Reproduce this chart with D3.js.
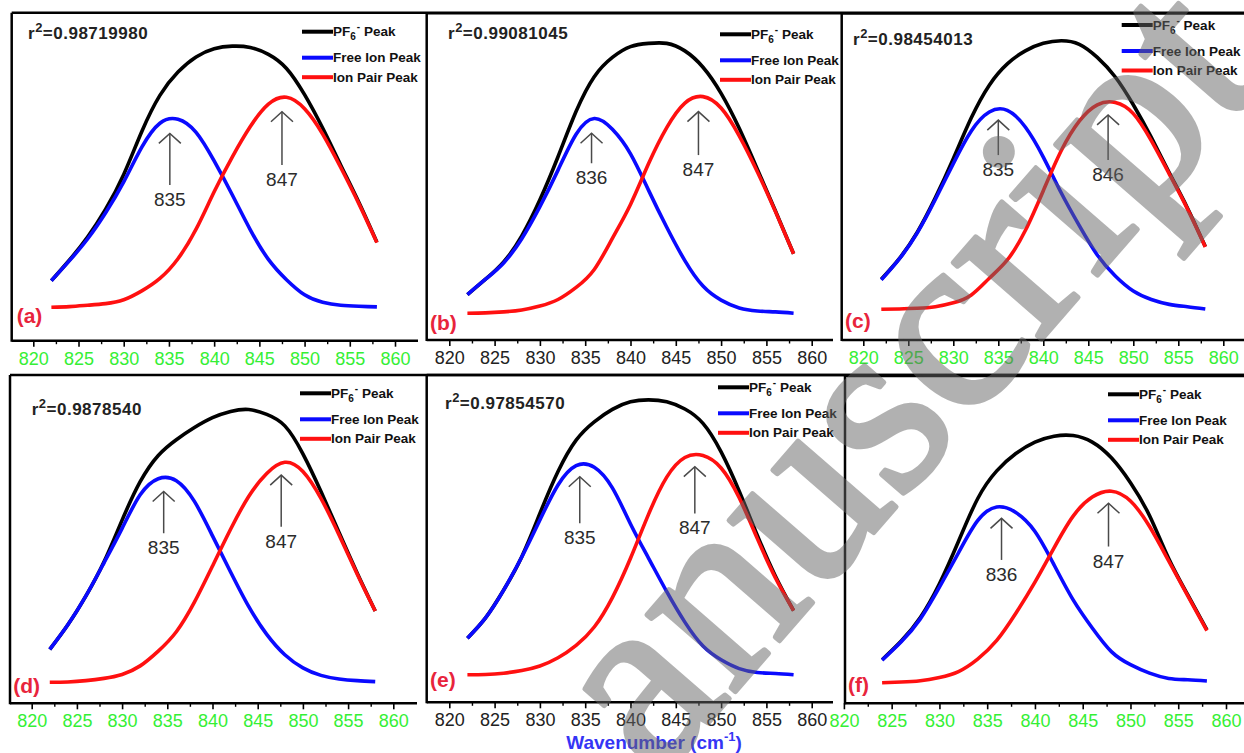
<!DOCTYPE html>
<html>
<head>
<meta charset="utf-8">
<script src="https://cdn.jsdelivr.net/npm/d3@7"></script>
<style>
  body { margin: 0; background: #fff; }
  svg { display: block; }
</style>
</head>
<body>
<div id="chart"></div>
<script>
// wavenumber grid (cm-1); intensities normalised 0-100 inside each panel
const wavenumbers = [822, 824, 826, 828, 830, 832, 834, 836, 838, 840, 842, 844, 846, 848, 850, 852, 854, 856, 858];
const majorTicks = [820, 825, 830, 835, 840, 845, 850, 855, 860];
const minorTicks = [822.5, 827.5, 832.5, 837.5, 842.5, 847.5, 852.5, 857.5];

const panelTags = ["(a)", "(b)", "(c)", "(d)", "(e)", "(f)"];
const r2Values = ["0.98719980", "0.99081045", "0.98454013", "0.9878540", "0.97854570", null];
const seriesNames = ["PF6 Peak", "Free Ion Peak", "Ion Pair Peak"];

// (a)
const pf6A  = [18.3, 24.6, 31.6, 40.1, 50.7, 63.8, 74.8, 81.9, 86.5, 89.0, 89.8, 89.4, 87.3, 83.0, 75.0, 64.8, 53.5, 42.2, 30.0];
const freeA = [18.3, 24.4, 31.0, 39.0, 48.4, 59.0, 66.3, 67.5, 63.5, 54.8, 44.5, 33.8, 24.8, 18.6, 14.0, 11.7, 10.8, 10.5, 10.3];
const pairA = [10.2, 10.4, 10.8, 11.3, 12.5, 15.2, 19.0, 25.0, 34.0, 45.4, 56.0, 65.3, 72.1, 74.2, 70.7, 63.0, 52.8, 41.8, 29.9];
// (b)
const pf6B  = [13.9, 18.6, 23.9, 31.9, 42.9, 56.1, 70.0, 80.6, 86.5, 89.8, 90.8, 90.8, 88.5, 83.5, 75.5, 64.8, 52.3, 39.5, 26.4];
const freeB = [13.9, 18.6, 23.6, 31.0, 40.8, 52.0, 63.0, 67.8, 64.5, 57.0, 45.8, 34.5, 24.3, 16.5, 12.2, 9.8, 8.9, 8.6, 8.2];
const pairB = [8.2, 8.3, 8.6, 9.2, 10.4, 12.4, 16.1, 21.6, 31.1, 41.5, 54.0, 65.0, 72.5, 74.5, 71.0, 62.5, 51.5, 39.3, 26.4];
// (c)
const pf6C  = [18.6, 24.9, 33.0, 43.5, 55.5, 68.0, 78.0, 84.5, 88.5, 90.8, 91.6, 90.5, 86.5, 80.5, 72.0, 62.0, 51.2, 40.5, 28.6];
const freeC = [18.4, 24.8, 32.8, 43.0, 54.0, 64.0, 69.8, 70.3, 65.2, 56.0, 45.0, 35.0, 26.0, 19.6, 15.0, 12.4, 10.9, 10.2, 9.5];
const pairC = [9.4, 9.5, 9.7, 10.2, 11.4, 13.8, 18.9, 24.5, 33.5, 45.7, 58.0, 67.0, 72.0, 72.7, 69.3, 61.0, 50.8, 40.2, 28.5];
// (d)
const pf6D  = [16.4, 23.9, 32.7, 43.1, 55.8, 67.5, 75.5, 80.3, 84.0, 87.0, 88.9, 89.5, 88.0, 84.5, 76.0, 64.5, 52.0, 39.7, 28.1];
const freeD = [16.4, 23.9, 32.7, 42.8, 53.3, 63.5, 68.4, 67.8, 61.5, 51.0, 40.0, 29.5, 21.0, 14.8, 10.8, 8.5, 7.4, 6.9, 6.6];
const pairD = [6.4, 6.5, 6.9, 7.6, 8.8, 11.4, 15.9, 21.8, 30.8, 41.8, 53.0, 63.0, 70.0, 73.4, 70.6, 62.4, 51.3, 39.4, 28.1];
// (e)
const pf6E  = [19.6, 25.8, 34.3, 44.5, 57.7, 70.5, 80.1, 85.7, 89.5, 91.8, 92.4, 91.8, 89.6, 85.2, 76.5, 64.5, 51.0, 38.5, 28.0];
const freeE = [19.6, 25.8, 34.3, 44.4, 55.7, 66.4, 72.3, 71.8, 65.5, 54.5, 44.0, 33.8, 24.5, 17.2, 13.0, 10.3, 9.1, 8.8, 8.4];
const pairE = [8.4, 8.5, 8.9, 9.7, 11.1, 13.6, 17.4, 23.0, 32.0, 44.0, 57.5, 68.8, 74.8, 75.4, 71.6, 62.5, 50.0, 38.0, 28.0];
// (f) measured from 824 only
const pf6F  = [null, 13.3, 19.0, 26.2, 36.5, 49.5, 62.5, 71.0, 76.3, 79.8, 81.6, 81.8, 79.8, 75.0, 67.4, 57.3, 44.2, 33.1, 22.4];
const freeF = [null, 13.2, 18.8, 25.8, 35.5, 46.0, 55.8, 60.0, 58.3, 52.5, 42.3, 31.6, 23.0, 15.8, 11.8, 9.2, 7.6, 7.2, 6.8];
const pairF = [null, 6.3, 6.5, 6.9, 7.9, 9.7, 13.5, 19.2, 27.5, 37.0, 47.5, 57.2, 63.0, 64.8, 61.8, 54.0, 43.5, 32.8, 22.2];

// peak arrows: wavenumber, tip and tail heights, label
const freeArrowX   = [835.1, 835.7, 835.0, 834.6, 834.4, 836.5];
const freeArrowTop = [63.2, 63.3, 67.3, 64.5, 68.9, 56.5];
const freeArrowEnd = [47.5, 54.1, 56.6, 51.8, 54.7, 43.8];
const freeLabels   = ["835", "836", "835", "835", "835", "836"];
const pairArrowX   = [847.5, 847.5, 847.2, 847.6, 847.1, 847.7];
const pairArrowTop = [69.8, 69.9, 68.9, 69.5, 72.0, 61.1];
const pairArrowEnd = [53.6, 56.6, 55.1, 53.8, 57.7, 47.9];
const pairLabels   = ["847", "847", "846", "847", "847", "847"];

const pf6 = [pf6A, pf6B, pf6C, pf6D, pf6E, pf6F];
const free = [freeA, freeB, freeC, freeD, freeE, freeF];
const pair = [pairA, pairB, pairC, pairD, pairE, pairF];

// panel geometry (each panel is its own pasted plot)
const green = "#35ef35", dark = "#222";
const layout = [
  { left: 11.7,  top: 12.7, topEnd: 1244, axisY: 340.7, axisEnd: 418,  x0: 33.3,  x1: 395,    tick: green, legX: 302,    legY: 31.7,  r2X: 28,   r2Y: 39,   tagX: 16.7, tagY: 323 },
  { left: 426.7, top: 13.3, topEnd: 1244, axisY: 340,   axisEnd: 833,  x0: 449.3, x1: 811.7,  tick: dark,  legX: 720,    legY: 34.3,  r2X: 448,  r2Y: 39.3, tagX: 430,  tagY: 330 },
  { left: 841.7, top: 13.3, topEnd: 1244, axisY: 340,   axisEnd: 1244, x0: 863.3, x1: 1223.3, tick: green, legX: 1121.7, legY: 25,    r2X: 853,  r2Y: 45,   tagX: 845,  tagY: 328 },
  { left: 10,    top: 375,  topEnd: 1244, axisY: 703.3, axisEnd: 417,  x0: 31.7,  x1: 393.3,  tick: green, legX: 300,    legY: 393.3, r2X: 31.7, r2Y: 415,  tagX: 13.3, tagY: 693 },
  { left: 426.7, top: 375,  topEnd: 1244, axisY: 702.3, axisEnd: 833,  x0: 449.3, x1: 811.7,  tick: dark,  legX: 718,    legY: 387.3, r2X: 445,  r2Y: 409,  tagX: 430,  tagY: 686.7 },
  { left: 845,   top: 376,  topEnd: 1244, axisY: 703.3, axisEnd: 1244, x0: 843.9, x1: 1226,   tick: green, legX: 1108,   legY: 394.3, r2X: 0,    r2Y: 0,    tagX: 848,  tagY: 691.7 }
];

const colors = ["#000000", "#0a0aff", "#ff1010"];
const sans = "'Liberation Sans', Arial, sans-serif";

const svg = d3.select("#chart")
  .append("svg")
  .attr("width", 1244)
  .attr("height", 753)
  .attr("viewBox", [0, 0, 1244, 753]);

svg.append("rect").attr("width", 1244).attr("height", 753).attr("fill", "#fff");

layout.forEach((p, i) => {
  let x = d3.scaleLinear().domain([820, 860]).range([p.x0, p.x1]);
  let y = d3.scaleLinear().domain([0, 100]).range([p.axisY, p.top]);
  const g = svg.append("g");

  // frame
  g.append("line").attr("x1", p.left).attr("x2", p.topEnd).attr("y1", p.top).attr("y2", p.top)
    .attr("stroke", "#000").attr("stroke-width", 2.5);
  g.append("line").attr("x1", p.left).attr("x2", p.left).attr("y1", p.top).attr("y2", p.axisY + 1)
    .attr("stroke", "#000").attr("stroke-width", 2.5);
  g.append("line").attr("x1", p.left).attr("x2", p.axisEnd).attr("y1", p.axisY).attr("y2", p.axisY)
    .attr("stroke", "#000").attr("stroke-width", 2.5);

  // major ticks + labels
  const ax = g.append("g")
    .attr("transform", `translate(0,${p.axisY})`)
    .call(d3.axisBottom(x).tickValues(majorTicks).tickSize(6).tickSizeOuter(0));
  ax.select(".domain").remove();
  ax.attr("font-size", 18).attr("font-family", sans);
  ax.selectAll("line").attr("stroke", "#000").attr("stroke-width", 1.6);
  ax.selectAll("text").attr("y", 24).attr("dy", null).attr("fill", p.tick);

  // minor ticks
  const axm = g.append("g")
    .attr("transform", `translate(0,${p.axisY})`)
    .call(d3.axisBottom(x).tickValues(minorTicks).tickSize(3.5).tickSizeOuter(0).tickFormat(""));
  axm.select(".domain").remove();
  axm.selectAll("line").attr("stroke", "#000").attr("stroke-width", 1.4);

  // curves: envelope, free ion, ion pair
  let line = d3.line()
    .defined(d => d[1] != null)
    .x(d => x(d[0]))
    .y(d => y(d[1]))
    .curve(d3.curveNatural);

  [pf6[i], free[i], pair[i]].forEach((vals, k) => {
    g.append("path")
      .datum(wavenumbers.map((w, j) => [w, vals[j]]))
      .attr("d", line)
      .attr("fill", "none")
      .attr("stroke", colors[k])
      .attr("stroke-width", 3.6)
      .attr("stroke-linejoin", "round");
  });

  // peak arrows
  const arrows = [
    [freeArrowX[i], freeArrowTop[i], freeArrowEnd[i], freeLabels[i]],
    [pairArrowX[i], pairArrowTop[i], pairArrowEnd[i], pairLabels[i]]
  ];
  arrows.forEach(([ax0, top, end, lab]) => {
    const px = x(ax0), pt = y(top), pe = y(end);
    g.append("line").attr("x1", px).attr("x2", px).attr("y1", pe).attr("y2", pt)
      .attr("stroke", "#4a4a4a").attr("stroke-width", 1.5);
    g.append("path").attr("d", `M${px - 11},${pt + 10}L${px},${pt}L${px + 11},${pt + 10}`)
      .attr("fill", "none").attr("stroke", "#4a4a4a").attr("stroke-width", 1.5);
    g.append("text").attr("x", px).attr("y", pe + 21)
      .attr("text-anchor", "middle")
      .attr("font-family", sans).attr("font-size", 19)
      .attr("fill", "#2b2b2b")
      .text(lab);
  });

  // legend
  const rows = [0, 26, 45.5];
  rows.forEach((dy, k) => {
    const ly = p.legY + dy;
    g.append("line").attr("x1", p.legX).attr("x2", p.legX + 31).attr("y1", ly).attr("y2", ly)
      .attr("stroke", colors[k]).attr("stroke-width", 4);
    const t = g.append("text").attr("x", p.legX + 31).attr("y", ly + 4.5)
      .attr("font-family", sans).attr("font-size", 13.5).attr("font-weight", "bold")
      .attr("fill", "#111");
    if (k === 0) {
      t.append("tspan").text("PF");
      t.append("tspan").attr("dy", 4).attr("font-size", 10).text("6");
      t.append("tspan").attr("dy", -10).attr("dx", 1).attr("font-size", 10).text("-");
      t.append("tspan").attr("dy", 6).text(" Peak");
    } else {
      t.text(seriesNames[k]);
    }
  });

  // r^2 annotation
  if (r2Values[i]) {
    const t = g.append("text").attr("x", p.r2X).attr("y", p.r2Y)
      .attr("font-family", sans).attr("font-size", 17).attr("font-weight", "bold")
      .attr("letter-spacing", 0.5)
      .attr("fill", "#222");
    t.append("tspan").text("r");
    t.append("tspan").attr("dy", -7).attr("font-size", 13).text("2");
    t.append("tspan").attr("dy", 7).text("=" + r2Values[i]);
  }

  // panel tag
  g.append("text").attr("x", p.tagX).attr("y", p.tagY)
    .attr("font-family", sans).attr("font-size", 21).attr("font-weight", "bold")
    .attr("fill", "#e8243c")
    .text(panelTags[i]);
});

// shared x label
const xl = svg.append("text")
  .attr("x", 654).attr("y", 749)
  .attr("text-anchor", "middle")
  .attr("font-family", sans).attr("font-size", 19).attr("font-weight", "bold")
  .attr("fill", "#3535f5");
xl.append("tspan").text("Wavenumber (cm");
xl.append("tspan").attr("dy", -8).attr("font-size", 13).text("-1");
xl.append("tspan").attr("dy", 8).text(")");

// watermark lying over the figure (only this part of the word is inside the frame)
svg.append("text")
  .attr("transform", "translate(613,743) rotate(-49)")
  .attr("dy", "0.23em")
  .attr("font-family", "'Liberation Serif', 'Times New Roman', serif")
  .attr("font-size", 255)
  .attr("fill", "#666")
  .attr("stroke", "#666")
  .attr("stroke-width", 5)
  .attr("stroke-linejoin", "round")
  .attr("opacity", 0.5)
  .text("anuscript");
</script>
</body>
</html>
